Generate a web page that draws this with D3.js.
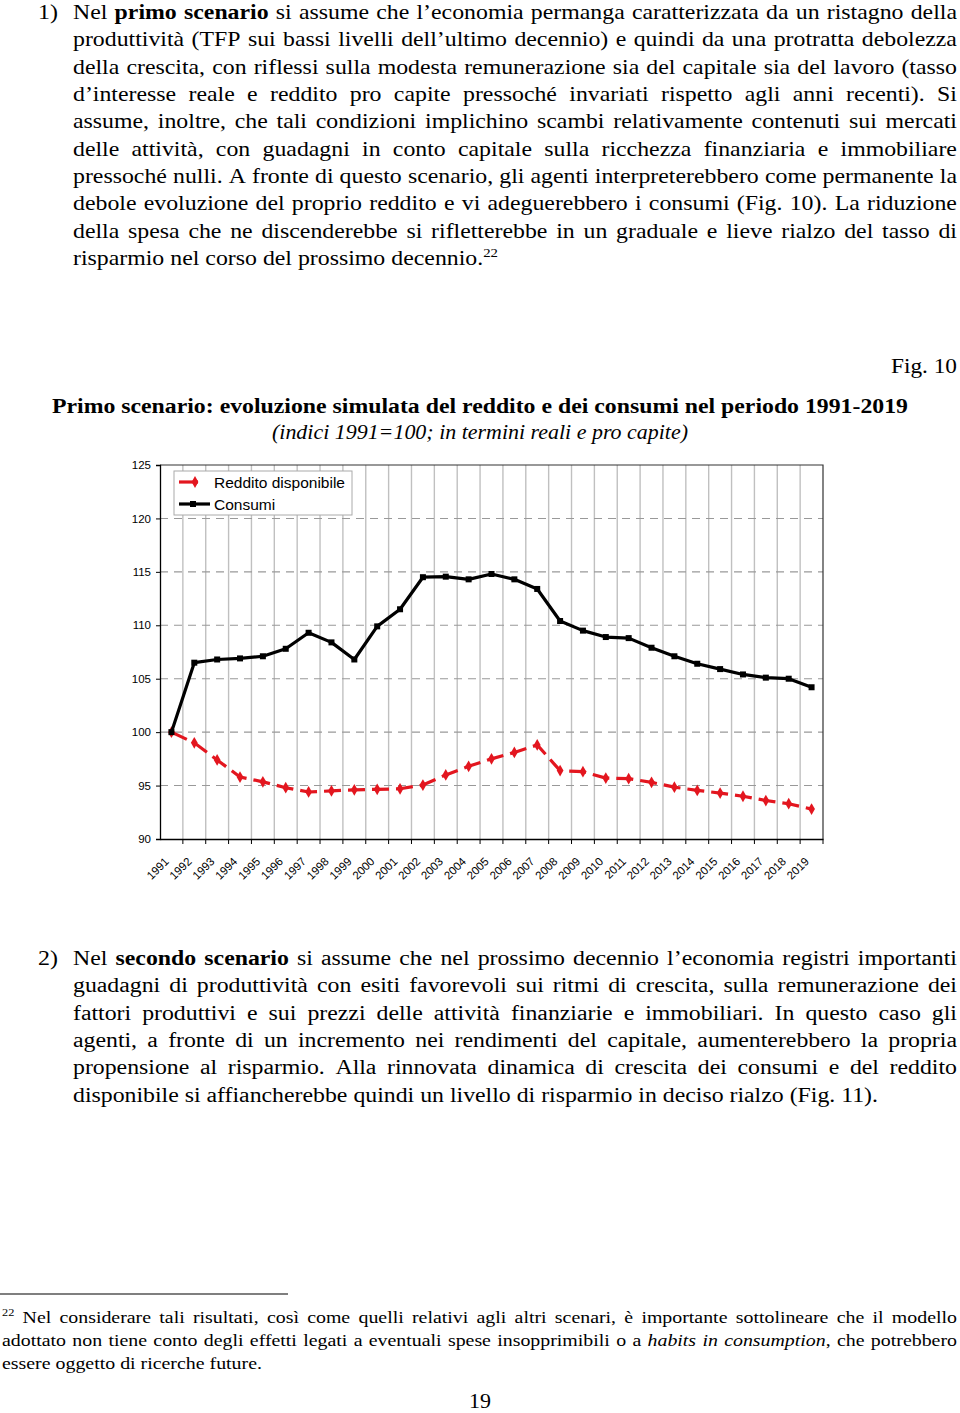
<!DOCTYPE html>
<html><head><meta charset="utf-8">
<script src="https://cdn.jsdelivr.net/npm/d3@7"></script>
<style>html,body{margin:0;padding:0;background:#fff;}svg{display:block;}</style>
</head><body>
<svg id="page" width="960" height="1413"></svg>
<script>
// ---------------- DATA ----------------
const years = [1991,1992,1993,1994,1995,1996,1997,1998,1999,2000,2001,2002,2003,2004,2005,2006,2007,2008,2009,2010,2011,2012,2013,2014,2015,2016,2017,2018,2019];
const reddito = [100,99.0,97.4,95.8,95.35,94.8,94.4,94.5,94.6,94.65,94.7,95.05,96.0,96.8,97.5,98.1,98.8,96.4,96.3,95.7,95.65,95.3,94.85,94.55,94.3,94.0,93.6,93.3,92.8];
const consumi = [100,106.5,106.8,106.9,107.1,107.8,109.3,108.4,106.8,109.9,111.5,114.5,114.55,114.3,114.8,114.3,113.4,110.4,109.5,108.9,108.8,107.9,107.1,106.4,105.9,105.4,105.1,105.0,104.2];
const yTicks = [90,95,100,105,110,115,120,125];
const seriesNames = ["Reddito disponibile","Consumi"];
const figLabel = "Fig. 10";
const chartTitle = "Primo scenario: evoluzione simulata del reddito e dei consumi nel periodo 1991-2019";
const chartSubtitle = "(indici 1991=100; in termini reali e pro capite)";
const para1 = [
 "Nel **primo scenario** si assume che l’economia permanga caratterizzata da un ristagno della",
 "produttività (TFP sui bassi livelli dell’ultimo decennio) e quindi da una protratta debolezza",
 "della crescita, con riflessi sulla modesta remunerazione sia del capitale sia del lavoro (tasso",
 "d’interesse reale e reddito pro capite pressoché invariati rispetto agli anni recenti). Si",
 "assume, inoltre, che tali condizioni implichino scambi relativamente contenuti sui mercati",
 "delle attività, con guadagni in conto capitale sulla ricchezza finanziaria e immobiliare",
 "pressoché nulli. A fronte di questo scenario, gli agenti interpreterebbero come permanente la",
 "debole evoluzione del proprio reddito e vi adeguerebbero i consumi (Fig. 10). La riduzione",
 "della spesa che ne discenderebbe si rifletterebbe in un graduale e lieve rialzo del tasso di",
 "risparmio nel corso del prossimo decennio.^22^"
];
const para2 = [
 "Nel **secondo scenario** si assume che nel prossimo decennio l’economia registri importanti",
 "guadagni di produttività con esiti favorevoli sui ritmi di crescita, sulla remunerazione dei",
 "fattori produttivi e sui prezzi delle attività finanziarie e immobiliari. In questo caso gli",
 "agenti, a fronte di un incremento nei rendimenti del capitale, aumenterebbero la propria",
 "propensione al risparmio. Alla rinnovata dinamica di crescita dei consumi e del reddito",
 "disponibile si affiancherebbe quindi un livello di risparmio in deciso rialzo (Fig. 11)."
];
const footnote = [
 "^22^ Nel considerare tali risultati, così come quelli relativi agli altri scenari, è importante sottolineare che il modello",
 "adottato non tiene conto degli effetti legati a eventuali spese insopprimibili o a _habits in consumption_, che potrebbero",
 "essere oggetto di ricerche future."
];
const pageNumber = "19";

// ---------------- TEXT HELPERS ----------------
const SERIF = "'Liberation Serif','Times New Roman',serif";
const SANS = "'Liberation Sans',Arial,sans-serif";
const svg = d3.select("#page");
svg.append("rect").attr("width",960).attr("height",1413).attr("fill","#fff");

function parseRuns(str){
  const runs=[]; let b=false,i=false,sup=false,cur="";
  const push=()=>{ if(cur) runs.push({text:cur,b,i,sup}); cur=""; };
  for(let k=0;k<str.length;k++){
    const c=str[k];
    if(c==="*"&&str[k+1]==="*"){push();b=!b;k++;continue;}
    if(c==="_"){push();i=!i;continue;}
    if(c==="^"){push();sup=!sup;continue;}
    cur+=c;
  }
  push(); return runs;
}
function splitWords(runs){
  const words=[]; let w=[];
  runs.forEach(r=>{
    const parts=r.text.split(" ");
    parts.forEach((p,idx)=>{
      if(idx>0){ if(w.length) words.push(w); w=[]; }
      if(p) w.push({...r,text:p});
    });
  });
  if(w.length) words.push(w);
  return words;
}
function makeLine(x,y,str,size){
  const g=svg.append("g").attr("transform",`translate(${x},${y})`);
  const inner=g.append("g");
  const words=splitWords(parseRuns(str));
  const nodes=words.map(w=>{
    const t=inner.append("text").style("font-family",SERIF).attr("font-size",size).attr("fill","#000");
    let off=0;
    w.forEach(r=>{
      const ts=t.append("tspan").text(r.text);
      if(r.b) ts.attr("font-weight","bold");
      if(r.i) ts.attr("font-style","italic");
      if(r.sup){ ts.attr("font-size",size*0.62); if(off===0){ts.attr("dy",-size*0.42); off=-size*0.42;} }
      else if(off!==0){ ts.attr("dy",-off); off=0; }
    });
    return t;
  });
  const widths=nodes.map(n=>n.node().getComputedTextLength());
  return {g,inner,nodes,widths,sum:d3.sum(widths),n:nodes.length,sp:size*0.25};
}
function place(L,gap,sx){
  let px=0;
  L.nodes.forEach((nd,k)=>{ nd.attr("x",px); px+=L.widths[k]+gap; });
  L.inner.attr("transform",`scale(${sx},1)`);
}
function fitLine(x,y,str,size,width){
  const L=makeLine(x,y,str,size);
  const nat=L.sum+(L.n-1)*L.sp;
  place(L,L.sp,width/nat);
  return L;
}
function paragraph(lines,x,y0,lh,width,size,lastWidth){
  const Ls=lines.map((s,k)=>makeLine(x,y0+k*lh,s,size));
  const last=Ls[Ls.length-1];
  const sx=lastWidth/(last.sum+(last.n-1)*last.sp);
  Ls.forEach((L,k)=>{
    if(k===Ls.length-1){ place(L,L.sp,sx); return; }
    let gap=(width/sx-L.sum)/(L.n-1), lsx=sx;
    if(gap<L.sp*0.55){ gap=L.sp*0.55; lsx=width/(L.sum+(L.n-1)*gap); }
    place(L,gap,lsx);
  });
}

// ---------------- BODY TEXT ----------------
fitLine(38,19,"1)",20,20);
paragraph(para1,73,19,27.35,884,20,425);
fitLine(38,965,"2)",20,20);
paragraph(para2,73,965,27.35,884,20,805);

fitLine(891,373,figLabel,20,66);
const tl=makeLine(52,413,"**"+chartTitle+"**",20); place(tl,tl.sp,856/(tl.sum+(tl.n-1)*tl.sp));
const st=makeLine(272,439,"_"+chartSubtitle+"_",20); place(st,st.sp,416/(st.sum+(st.n-1)*st.sp));

svg.append("line").attr("x1",0).attr("x2",288).attr("y1",1294).attr("y2",1294).attr("stroke","#000").attr("stroke-width",1.2);
paragraph(footnote,2,1323,23,955,17,260);
fitLine(469,1408,pageNumber,20,22);

// ---------------- CHART ----------------
const pL=160,pR=823,pT=465,pB=839;
const x=d3.scaleBand().domain(years).range([pL,pR]);
const y=d3.scaleLinear().domain([90,125]).range([pB,pT]);
const xc=d=>x(d)+x.bandwidth()/2;
const ch=svg.append("g");

// vertical gridlines at band boundaries
ch.append("g").selectAll("line").data(years.slice(1)).join("line")
  .attr("x1",d=>x(d)).attr("x2",d=>x(d)).attr("y1",pT).attr("y2",pB)
  .attr("stroke","#c0c0c0").attr("stroke-width",1.4);
// horizontal dashed gridlines
ch.append("g").selectAll("line").data(yTicks.filter(v=>v>90&&v<125)).join("line")
  .attr("x1",pL).attr("x2",pR).attr("y1",d=>y(d)).attr("y2",d=>y(d))
  .attr("stroke","#999").attr("stroke-width",1.1).attr("stroke-dasharray","8,6");
// frame top/right
ch.append("path").attr("d",`M${pL},${pT}H${pR}V${pB}`).attr("fill","none").attr("stroke","#333").attr("stroke-width",1.2);

// y axis
const ya=ch.append("g").attr("transform",`translate(${pL},0)`)
  .call(d3.axisLeft(y).tickValues(yTicks).tickSize(4).tickPadding(5).tickFormat(d3.format("d")));
ya.select(".domain").attr("stroke","#000").attr("stroke-width",1.3);
ya.selectAll(".tick line").attr("stroke","#000");
ya.selectAll("text").style("font-family",SANS).attr("font-size",11.5).attr("fill","#000");

// x axis
const xa=ch.append("g").attr("transform",`translate(0,${pB})`)
  .call(d3.axisBottom(x).tickSize(0).tickFormat(d3.format("d")));
xa.select(".domain").attr("stroke","#000").attr("stroke-width",1.3);
xa.selectAll(".tick text").style("font-family",SANS).attr("font-size",11.5).attr("fill","#000")
  .attr("text-anchor","end").attr("dx",0).attr("dy",0)
  .attr("transform","translate(-4,21) rotate(-45)");
ch.append("g").selectAll("line").data(years.slice(1).concat(["end"])).join("line")
  .attr("x1",d=>d==="end"?pR:x(d)).attr("x2",d=>d==="end"?pR:x(d))
  .attr("y1",pB).attr("y2",pB+5).attr("stroke","#000");

// lines
const RED="#e3161f";
const line=d3.line().x((d,i)=>xc(years[i])).y(d=>y(d));
ch.append("path").datum(reddito).attr("d",line).attr("fill","none").attr("stroke",RED)
  .attr("stroke-width",3.2).attr("stroke-dasharray","17,7");
ch.append("g").selectAll("path").data(reddito).join("path")
  .attr("d",d3.symbol(d3.symbolDiamond,40)).attr("transform",(d,i)=>`translate(${xc(years[i])},${y(d)})`)
  .attr("fill",RED);
ch.append("path").datum(consumi).attr("d",line).attr("fill","none").attr("stroke","#000")
  .attr("stroke-width",3.2).attr("stroke-linejoin","round");
ch.append("g").selectAll("rect").data(consumi).join("rect")
  .attr("x",(d,i)=>xc(years[i])-3).attr("y",d=>y(d)-3).attr("width",6).attr("height",6).attr("fill","#000");

// legend
const lg=ch.append("g");
lg.append("rect").attr("x",174).attr("y",471).attr("width",178).attr("height",44).attr("fill","#fff").attr("stroke","#aaa");
lg.append("line").attr("x1",179).attr("x2",198).attr("y1",482).attr("y2",482).attr("stroke",RED).attr("stroke-width",3.2);
lg.append("path").attr("d",d3.symbol(d3.symbolDiamond,40)).attr("transform","translate(195,482)").attr("fill",RED);
lg.append("line").attr("x1",179).attr("x2",210).attr("y1",504).attr("y2",504).attr("stroke","#000").attr("stroke-width",3.2);
lg.append("rect").attr("x",190).attr("y",501).attr("width",6).attr("height",6).attr("fill","#000");
lg.selectAll("text").data(seriesNames).join("text").attr("x",214).attr("y",(d,i)=>483+i*22).attr("dy","0.35em")
  .style("font-family",SANS).attr("font-size",15.5).attr("fill","#000").text(d=>d);
</script>
</body></html>
